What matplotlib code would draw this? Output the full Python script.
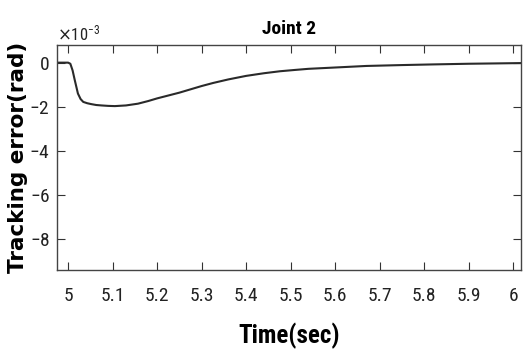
import matplotlib
matplotlib.use("Agg")
import matplotlib.pyplot as plt
from matplotlib import font_manager
from matplotlib.ticker import ScalarFormatter

plt.rcParams['axes.unicode_minus'] = False

# time (s) and tracking error (rad)
t = [4.975, 5.0, 5.005, 5.01, 5.015, 5.022, 5.028, 5.034, 5.043, 5.052, 5.063, 5.075,
     5.09, 5.105, 5.13, 5.157, 5.18, 5.2, 5.225, 5.25, 5.275, 5.3, 5.326, 5.36, 5.4,
     5.44, 5.476, 5.51, 5.54, 5.6, 5.67, 5.75, 5.82, 5.9, 5.96, 6.0175]
err = [0.0, 0.0, -0.05, -0.35, -0.8, -1.4, -1.65, -1.78, -1.84, -1.88, -1.92, -1.94,
       -1.96, -1.97, -1.94, -1.86, -1.74, -1.62, -1.49, -1.36, -1.21, -1.06, -0.92, -0.76, -0.6,
       -0.48, -0.39, -0.33, -0.28, -0.22, -0.15, -0.11, -0.08, -0.05, -0.035, -0.02]
err = [e * 1e-3 for e in err]

xticks = [5.0, 5.1, 5.2, 5.3, 5.4, 5.5, 5.6, 5.7, 5.8, 5.9, 6.0]
xticklabels = ['5', '5.1', '5.2', '5.3', '5.4', '5.5', '5.6', '5.7', '5.8', '5.9', '6']
yticks = [0.0, -2e-3, -4e-3, -6e-3, -8e-3]

# pick a condensed face if one is installed
fams = {}
for f in font_manager.fontManager.ttflist:
    fams.setdefault(f.name, set()).add(str(f.stretch))
narrow_name, narrow_stretch, found = 'Liberation Sans', 'normal', False
for name in ['Liberation Sans Narrow', 'Arial Narrow', 'Roboto Condensed',
             'Open Sans Condensed', 'Noto Sans Condensed', 'DejaVu Sans Condensed']:
    if name in fams:
        narrow_name, found = name, True
        break
if not found:
    for name in ['Roboto', 'Open Sans', 'Noto Sans', 'Inter', 'Liberation Sans']:
        st = fams.get(name, set())
        for s in ['condensed', 'semi-condensed', '87.5', '75', '62.5']:
            if s in st:
                narrow_name, narrow_stretch, found = name, s, True
                break
        if found:
            break

nfont = dict(family=[narrow_name, 'DejaVu Sans'], stretch=narrow_stretch)
tick_fs = 14 if found else 12

fig = plt.figure(figsize=(5.30, 3.56), dpi=100)
ax = fig.add_axes([57/530, 1 - 270/356, (521-57)/530, (270-45)/356])

ax.plot(t, err, color='#2a2a2a', lw=1.5)
ax.set_xlim(4.975, 6.0175)
ax.set_ylim(-9.4e-3, 0.8e-3)
ax.set_xticks(xticks)
ax.set_xticklabels(xticklabels, fontsize=tick_fs, **nfont)
ax.set_yticks(yticks)
fmt = ScalarFormatter(useMathText=True)
fmt.set_powerlimits((-3, -3))
ax.yaxis.set_major_formatter(fmt)
for lab in ax.get_yticklabels():
    lab.set_family(nfont['family'])
    lab.set_stretch(narrow_stretch)
    lab.set_fontsize(tick_fs)
off = ax.yaxis.get_offset_text()
off.set_family(nfont['family'])
off.set_fontsize(12)
off.set_color('#444444')

ax.tick_params(axis='x', direction='in', length=6, width=0.8, top=True,
               colors='#333333', labelcolor='#222222', pad=12)
ax.tick_params(axis='y', direction='in', length=6, width=0.8, right=True,
               colors='#333333', labelcolor='#222222', pad=5)
for s in ax.spines.values():
    s.set_color('#444444')
    s.set_linewidth(1.0)

ax.set_title('Joint 2', fontsize=14, fontweight='bold', pad=8, **nfont)
ax.set_xlabel('Time(sec)', fontsize=18, fontweight='bold', labelpad=13, **nfont)
ax.set_ylabel('Tracking error(rad)', family=['DejaVu Sans'], fontsize=15.5,
              fontweight='bold', va='center')
ax.yaxis.set_label_coords(-0.084, 0.5)

fig.savefig('out.png', dpi=100)
